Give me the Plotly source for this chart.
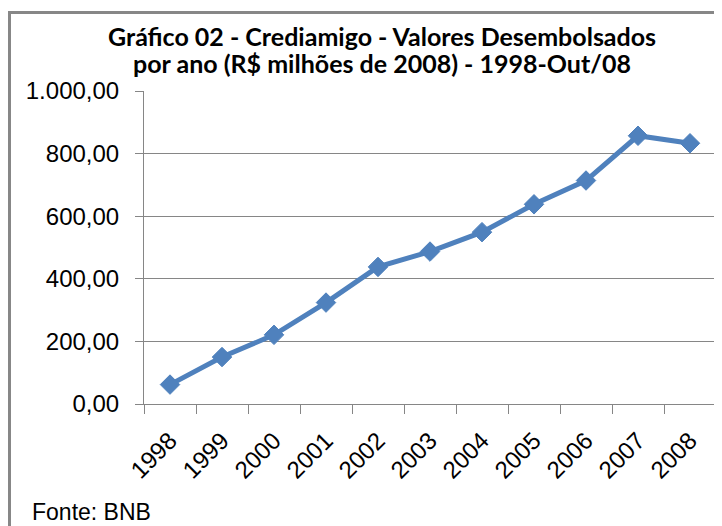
import plotly.graph_objects as go

years = ["1998", "1999", "2000", "2001", "2002", "2003", "2004", "2005", "2006", "2007", "2008"]
values = [62, 150, 221, 324, 438, 487, 549, 638, 714, 857, 833]
y_ticks = [0, 200, 400, 600, 800, 1000]
title_lines = ["Gráfico 02 - Crediamigo - Valores Desembolsados",
               "por ano (R$ milhões de 2008) - 1998-Out/08"]
source_text = "Fonte: BNB"

W, H = 722, 526
OFF = 8  # page body offset
L, R, T, B = 144 - OFF, 716 - OFF, 91 - OFF, 404 - OFF

def px_x(p):
    return (p - OFF - L) / (R - L)

def px_y(p):
    return (B - (p - OFF)) / (B - T)

fig = go.Figure()
fig.add_trace(go.Scatter(
    x=years, y=values, mode="lines+markers",
    line=dict(color="#4F81BD", width=5),
    marker=dict(symbol="diamond", size=15, color="#4F81BD",
                line=dict(color="#4F81BD", width=1)),
    showlegend=False,
))

axis_font = dict(family="Liberation Sans, Arial, sans-serif", size=24, color="#000000")

fig.update_layout(
    width=W, height=H,
    margin=dict(l=L, r=W - R, t=T, b=H - B, pad=0),
    paper_bgcolor="#FFFFFF", plot_bgcolor="#FFFFFF",
    separators=",.",
    xaxis=dict(
        type="category", range=[-0.5, 10.5], tickangle=-45,
        tickson="boundaries", ticks="outside", ticklen=9, tickcolor="#868686",
        showline=True, linecolor="#868686", linewidth=1,
        showgrid=False, zeroline=False, tickfont=axis_font, ticklabelstandoff=12,
    ),
    yaxis=dict(
        range=[0, 1000], tickvals=y_ticks, tickformat=",.2f",
        ticks="outside", ticklen=8, tickcolor="#868686",
        showline=True, linecolor="#868686", linewidth=1,
        showgrid=True, gridcolor="#868686", gridwidth=1,
        zeroline=False, tickfont=axis_font, ticklabelstandoff=11,
    ),
    shapes=[dict(
        type="rect", xref="paper", yref="paper",
        x0=px_x(9.5), x1=px_x(760), y0=px_y(580), y1=px_y(12.5),
        line=dict(color="#878787", width=3), fillcolor="rgba(0,0,0,0)", layer="below",
    )],
    annotations=[
        dict(text=title_lines[0], xref="paper", yref="paper",
             x=px_x(382), y=px_y(53), xanchor="center", yanchor="bottom", showarrow=False,
             font=dict(family="Lato, sans-serif", size=25, color="#000000", weight="bold")),
        dict(text=title_lines[1], xref="paper", yref="paper",
             x=px_x(382), y=px_y(80), xanchor="center", yanchor="bottom", showarrow=False,
             font=dict(family="Lato, sans-serif", size=25, color="#000000", weight="bold")),
        dict(text=source_text, xref="paper", yref="paper",
             x=px_x(30), y=px_y(497), xanchor="left", yanchor="top", showarrow=False,
             font=dict(family="Liberation Sans, Arial, sans-serif", size=23, color="#000000")),
    ],
)

fig.write_html("out.html")
